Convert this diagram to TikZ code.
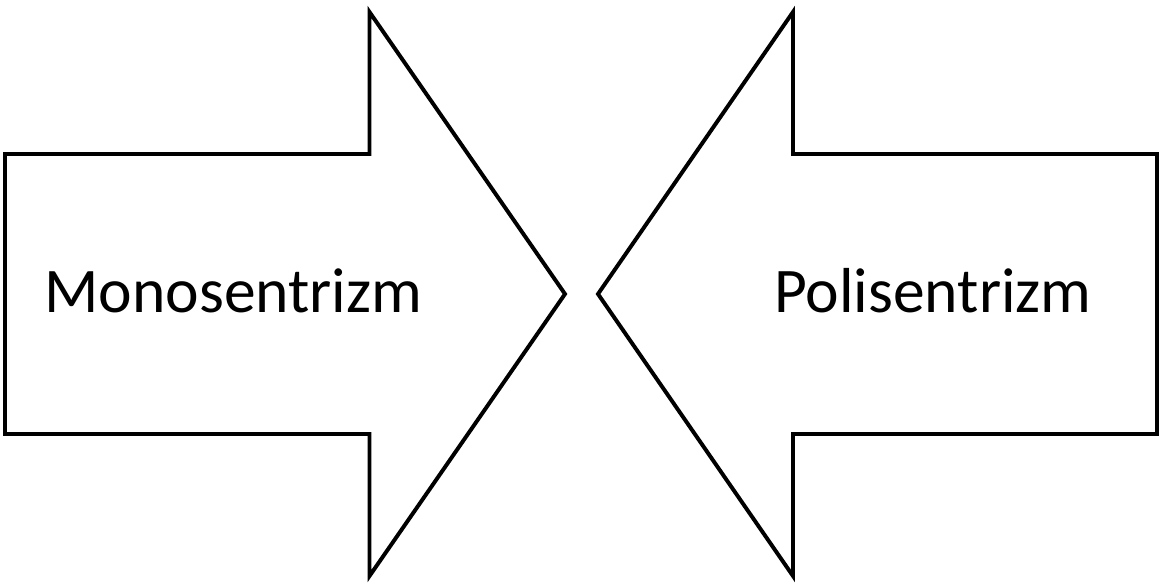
\documentclass[tikz,border=0pt]{standalone}
\usepackage{fontspec}
\setmainfont{Carlito}
\usetikzlibrary{positioning}

\begin{document}
\begin{tikzpicture}[x=0.025cm,y=-0.025cm,
  every node/.style={font=\fontsize{45.2}{52}\selectfont},
  blockarr/.style={draw,line width=2.8pt,line join=miter}]
\useasboundingbox (0,0) rectangle (1160,585);
% left arrow
\draw[blockarr] (5,154)--(369.5,154)--(369.5,12)--(565,294)--(369.5,576)--(369.5,434)--(5,434)--cycle;
\node[anchor=base] (mono) at (233.5,312) {Monosentrizm};
% right arrow
\draw[blockarr] (1157,154)--(793,154)--(793,12)--(598,294)--(793,576)--(793,434)--(1157,434)--cycle;
\node[anchor=base] (poli) at (933,312) {Polisentrizm};
\end{tikzpicture}
\end{document}
